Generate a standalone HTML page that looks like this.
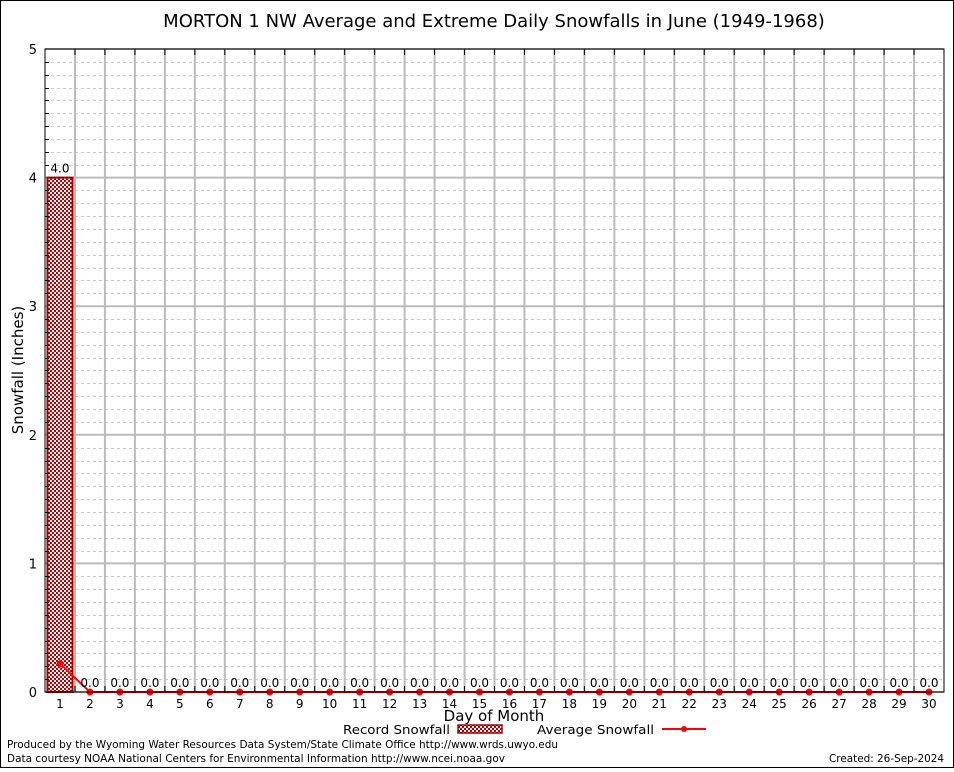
<!DOCTYPE html>
<html><head><meta charset="utf-8"><style>
body{margin:0;background:#fff;width:954px;height:768px;overflow:hidden;font-family:"DejaVu Sans","Liberation Sans",sans-serif}
svg text{font-family:"DejaVu Sans","Liberation Sans",sans-serif}
</style></head><body>
<svg id="chart" width="954" height="768" xmlns="http://www.w3.org/2000/svg">
<defs>
<pattern id="hatch" width="4" height="4" patternUnits="userSpaceOnUse">
<rect width="4" height="4" fill="#fff"/>
<rect x="0" y="0" width="2" height="2" fill="#c00000"/>
<rect x="2" y="2" width="2" height="2" fill="#c00000"/>
</pattern>
</defs>
<rect x="0.5" y="0.5" width="953" height="767" fill="#fff" stroke="#000"/>
<text x="494" y="27" font-size="18" text-anchor="middle">MORTON 1 NW Average and Extreme Daily Snowfalls in June (1949-1968)</text>
<g id="grid"></g>
<g id="bars"></g>
<g id="line"></g>
<g id="labels"></g>
<rect x="45" y="49" width="899" height="643" fill="none" stroke="#000"/>
<g id="axes"></g>
<text x="23" y="370" font-size="15" text-anchor="middle" transform="rotate(-90 23 370)">Snowfall (Inches)</text>
<text x="494" y="721" font-size="15" text-anchor="middle">Day of Month</text>
<g>
<text x="450" y="734" font-size="12" text-anchor="end" textLength="107" lengthAdjust="spacingAndGlyphs">Record Snowfall</text>
<rect x="458" y="725" width="44" height="8" fill="url(#hatch)" stroke="#a00000" stroke-width="1.5"/>
</g>
<g>
<text x="654" y="734" font-size="12" text-anchor="end" textLength="117" lengthAdjust="spacingAndGlyphs">Average Snowfall</text>
<line x1="662" y1="729" x2="706" y2="729" stroke="#ff0000" stroke-width="2"/>
<circle cx="684" cy="729" r="3" fill="#ff0000"/>
</g>
<text x="7" y="748" font-size="11" textLength="551" lengthAdjust="spacingAndGlyphs">Produced by the Wyoming Water Resources Data System/State Climate Office http://www.wrds.uwyo.edu</text>
<text x="7" y="762" font-size="11" textLength="498" lengthAdjust="spacingAndGlyphs">Data courtesy NOAA National Centers for Environmental Information http://www.ncei.noaa.gov</text>
<text x="944" y="762" font-size="11" text-anchor="end" textLength="115" lengthAdjust="spacingAndGlyphs">Created:  26-Sep-2024</text>
</svg>
<script>
const days = Array.from({length:30},(_,i)=>i+1);
const recordValues = [4.0,0,0,0,0,0,0,0,0,0,0,0,0,0,0,0,0,0,0,0,0,0,0,0,0,0,0,0,0,0];
const averageValues = [0.22,0,0,0,0,0,0,0,0,0,0,0,0,0,0,0,0,0,0,0,0,0,0,0,0,0,0,0,0,0];
const yTicks = [0,1,2,3,4,5];
const NS="http://www.w3.org/2000/svg";
const L=45,R=944,T=49,B=692,yMax=5;
const bw=(R-L)/days.length;
function x(d){return L+(d-0.5)*bw;}
function y(v){return B-(v/yMax)*(B-T);}
function mk(tag,attrs,parent,text){const e=document.createElementNS(NS,tag);for(const k in attrs)e.setAttribute(k,attrs[k]);if(text!==undefined)e.textContent=text;document.getElementById(parent).appendChild(e);return e;}
for(let v=0.1;v<yMax;v+=0.1){if(Math.abs(v-Math.round(v))<1e-6)continue;
const g=mk('line',{x1:L,x2:R,y1:Math.round(y(v))+0.5,y2:Math.round(y(v))+0.5,stroke:'#c8c8c8','stroke-dasharray':'3,3'},'grid');


const t=mk('line',{x1:L,x2:L+4,y1:Math.round(y(v))+0.5,y2:Math.round(y(v))+0.5,stroke:'#000'},'axes');

}
yTicks.forEach(v=>{
const g=mk('line',{x1:L,x2:R,y1:y(v),y2:y(v),stroke:'#bbb','stroke-width':2},'grid');


const t=mk('text',{x:L-8,y:y(v)+5,'font-size':13,'text-anchor':'end','font-family':'Liberation Serif,serif'},'axes',v);


});
for(let i=1;i<days.length;i++){const xx=L+i*bw;
const g=mk('line',{x1:xx,x2:xx,y1:T,y2:B,stroke:'#bbb','stroke-width':2},'grid');


const t=mk('line',{x1:xx,x2:xx,y1:T,y2:T+6,stroke:'#000'},'axes');


const t2=mk('line',{x1:xx,x2:xx,y1:B,y2:B-6,stroke:'#000'},'axes');

}
days.forEach((d,i)=>{
const lab=mk('text',{x:x(d),y:B+16,'font-size':12,'text-anchor':'middle','font-family':'Liberation Serif,serif'},'axes',d);


const v=recordValues[i];
if(v>0){const b=mk('rect',{x:x(d)-12.5,y:y(v),width:25,height:B-y(v),fill:'url(#hatch)',stroke:'#a00000','stroke-width':2},'bars');

}
const tl=mk('text',{x:x(d),y:(v>0?y(v)-5:B-5),'font-size':12,'text-anchor':'middle'},'labels',v.toFixed(1));


});
const pl=mk('polyline',{points:days.map((d,i)=>x(d)+','+y(averageValues[i])).join(' '),fill:'none',stroke:'#ff0000','stroke-width':2},'line');


days.forEach((d,i)=>{const c=mk('circle',{cx:x(d),cy:y(averageValues[i]),r:3.5,fill:'#ff0000'},'line');

});
</script>
</body></html>
